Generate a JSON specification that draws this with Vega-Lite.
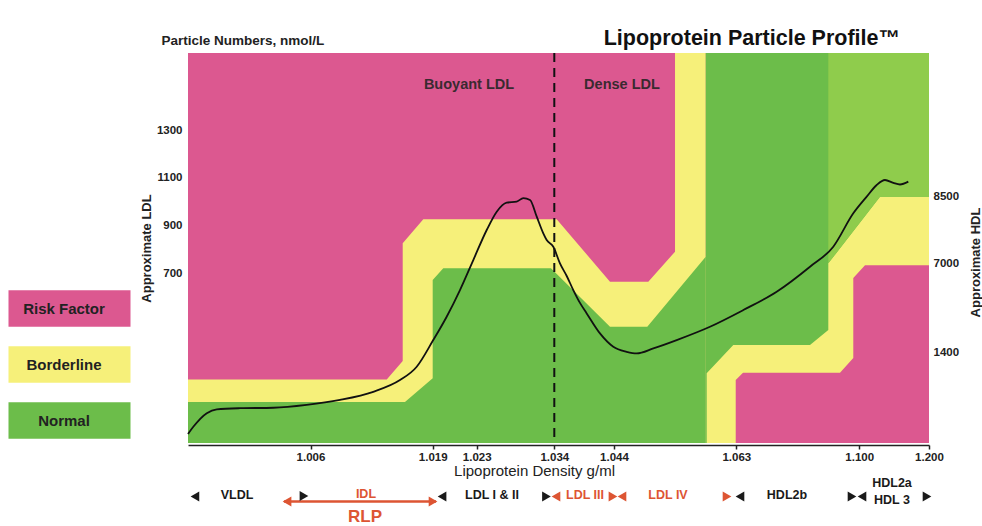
{
  "$schema": "https://vega.github.io/schema/vega-lite/v6.json",
  "width": 741,
  "height": 390,
  "autosize": {"type": "none"},
  "padding": {"left": 188, "top": 53, "right": 53, "bottom": 83},
  "background": "white",
  "config": {"view": {"stroke": null}, "font": "Liberation Sans"},
  "title": {"text": "Lipoprotein Particle Profile™", "anchor": "end", "frame": "group", "dx": -29, "offset": -33, "baseline": "alphabetic", "fontSize": 21.5, "fontWeight": "bold", "font": "Liberation Sans", "color": "#111111"},
  "datasets": {
    "zones": [
      {"part": "bg", "zone": "Risk Factor", "d": 1.0, "top": 1624, "bottom": -13},
      {"part": "bg", "zone": "Risk Factor", "d": 1.2, "top": 1624, "bottom": -13},
      {"part": "ldlBorder", "zone": "Borderline", "d": 1.0, "top": 254, "bottom": -13},
      {"part": "ldlBorder", "zone": "Borderline", "d": 1.01411, "top": 254, "bottom": -13},
      {"part": "ldlBorder", "zone": "Borderline", "d": 1.01581, "top": 331, "bottom": -13},
      {"part": "ldlBorder", "zone": "Borderline", "d": 1.01581, "top": 825, "bottom": -13},
      {"part": "ldlBorder", "zone": "Borderline", "d": 1.018, "top": 926, "bottom": -13},
      {"part": "ldlBorder", "zone": "Borderline", "d": 1.0344, "top": 926, "bottom": -13},
      {"part": "ldlBorder", "zone": "Borderline", "d": 1.04333, "top": 664, "bottom": -13},
      {"part": "ldlBorder", "zone": "Borderline", "d": 1.04933, "top": 664, "bottom": -13},
      {"part": "ldlBorder", "zone": "Borderline", "d": 1.05348, "top": 790, "bottom": -13},
      {"part": "ldlBorder", "zone": "Borderline", "d": 1.05348, "top": 1624, "bottom": -13},
      {"part": "ldlBorder", "zone": "Borderline", "d": 1.05825, "top": 1624, "bottom": -13},
      {"part": "hdlBorder", "zone": "Borderline", "d": 1.05825, "top": 1624, "bottom": -13},
      {"part": "hdlBorder", "zone": "Borderline", "d": 1.06291, "top": 1624, "bottom": -13},
      {"part": "hdlBorder", "zone": "Borderline", "d": 1.06291, "top": 1624, "bottom": 251},
      {"part": "hdlBorder", "zone": "Borderline", "d": 1.06502, "top": 1624, "bottom": 282},
      {"part": "hdlBorder", "zone": "Borderline", "d": 1.09422, "top": 1624, "bottom": 282},
      {"part": "hdlBorder", "zone": "Borderline", "d": 1.09822, "top": 1624, "bottom": 344},
      {"part": "hdlBorder", "zone": "Borderline", "d": 1.09822, "top": 1624, "bottom": 680},
      {"part": "hdlBorder", "zone": "Borderline", "d": 1.10831, "top": 1624, "bottom": 733},
      {"part": "hdlBorder", "zone": "Borderline", "d": 1.2, "top": 1624, "bottom": 733},
      {"part": "ldlNormal", "zone": "Normal", "d": 1.0, "top": 159, "bottom": -13},
      {"part": "ldlNormal", "zone": "Normal", "d": 1.01605, "top": 159, "bottom": -13},
      {"part": "ldlNormal", "zone": "Normal", "d": 1.019, "top": 259, "bottom": -13},
      {"part": "ldlNormal", "zone": "Normal", "d": 1.019, "top": 671, "bottom": -13},
      {"part": "ldlNormal", "zone": "Normal", "d": 1.01996, "top": 720, "bottom": -13},
      {"part": "ldlNormal", "zone": "Normal", "d": 1.03353, "top": 720, "bottom": -13},
      {"part": "ldlNormal", "zone": "Normal", "d": 1.04333, "top": 475, "bottom": -13},
      {"part": "ldlNormal", "zone": "Normal", "d": 1.04917, "top": 475, "bottom": -13},
      {"part": "ldlNormal", "zone": "Normal", "d": 1.05825, "top": 769, "bottom": -13},
      {"part": "hdlNormal", "zone": "Normal", "d": 1.05825, "top": 1624, "bottom": -13},
      {"part": "hdlNormal", "zone": "Normal", "d": 1.0584, "top": 1624, "bottom": -13},
      {"part": "hdlNormal", "zone": "Normal", "d": 1.0584, "top": 1624, "bottom": 280},
      {"part": "hdlNormal", "zone": "Normal", "d": 1.06253, "top": 1624, "bottom": 398},
      {"part": "hdlNormal", "zone": "Normal", "d": 1.08519, "top": 1624, "bottom": 398},
      {"part": "hdlNormal", "zone": "Normal", "d": 1.0907, "top": 1624, "bottom": 461},
      {"part": "hdlNormal", "zone": "Normal", "d": 1.0907, "top": 1624, "bottom": 741},
      {"part": "hdlNormal", "zone": "Normal", "d": 1.1298, "top": 1624, "bottom": 1021},
      {"part": "hdlNormal", "zone": "Normal", "d": 1.2, "top": 1624, "bottom": 1021},
      {"part": "hdlNormalUpper", "zone": "Normal", "d": 1.0907, "top": 1624, "bottom": 741},
      {"part": "hdlNormalUpper", "zone": "Normal", "d": 1.1298, "top": 1624, "bottom": 1021},
      {"part": "hdlNormalUpper", "zone": "Normal", "d": 1.2, "top": 1624, "bottom": 1021}
    ],
    "curve": [
      {"d": 1.0, "ldl": 25}, {"d": 1.00026, "ldl": 55}, {"d": 1.00092, "ldl": 112}, {"d": 1.00141, "ldl": 128},
      {"d": 1.00255, "ldl": 133}, {"d": 1.00418, "ldl": 135}, {"d": 1.00581, "ldl": 147}, {"d": 1.00914, "ldl": 168},
      {"d": 1.01268, "ldl": 202}, {"d": 1.01552, "ldl": 251}, {"d": 1.0173, "ldl": 307}, {"d": 1.01905, "ldl": 419},
      {"d": 1.02027, "ldl": 517}, {"d": 1.02148, "ldl": 629}, {"d": 1.02269, "ldl": 755}, {"d": 1.02442, "ldl": 881},
      {"d": 1.02584, "ldl": 958}, {"d": 1.02725, "ldl": 996}, {"d": 1.02867, "ldl": 1000}, {"d": 1.02961, "ldl": 1015},
      {"d": 1.03056, "ldl": 1007}, {"d": 1.03151, "ldl": 937}, {"d": 1.03244, "ldl": 867}, {"d": 1.03292, "ldl": 839},
      {"d": 1.03386, "ldl": 811}, {"d": 1.03495, "ldl": 741}, {"d": 1.03608, "ldl": 688}, {"d": 1.03718, "ldl": 629},
      {"d": 1.0383, "ldl": 575}, {"d": 1.03943, "ldl": 531}, {"d": 1.04165, "ldl": 447}, {"d": 1.04388, "ldl": 391},
      {"d": 1.04597, "ldl": 370}, {"d": 1.04753, "ldl": 363}, {"d": 1.05011, "ldl": 384}, {"d": 1.05374, "ldl": 419},
      {"d": 1.05891, "ldl": 475}, {"d": 1.06511, "ldl": 545}, {"d": 1.07516, "ldl": 622}, {"d": 1.08519, "ldl": 727},
      {"d": 1.0922, "ldl": 811}, {"d": 1.09822, "ldl": 951}, {"d": 1.11075, "ldl": 1021}, {"d": 1.12507, "ldl": 1070},
      {"d": 1.13696, "ldl": 1091}, {"d": 1.14886, "ldl": 1079}, {"d": 1.15845, "ldl": 1072}, {"d": 1.17035, "ldl": 1084}
    ],
    "labels": [
      {"text": "Buoyant LDL", "d": 1.0223, "level": 1490, "role": "region", "atherogenic": false},
      {"text": "Dense LDL", "d": 1.04524, "level": 1490, "role": "region", "atherogenic": false},
      {"text": "VLDL", "d": 1.0024, "level": -231, "role": "fraction", "atherogenic": false},
      {"text": "IDL", "d": 1.0119, "level": -227, "role": "fraction", "atherogenic": true},
      {"text": "LDL  I & II", "d": 1.02517, "level": -231, "role": "fraction", "atherogenic": false},
      {"text": "LDL III", "d": 1.03914, "level": -231, "role": "fraction", "atherogenic": true},
      {"text": "LDL IV", "d": 1.05239, "level": -231, "role": "fraction", "atherogenic": true},
      {"text": "HDL2b", "d": 1.07826, "level": -231, "role": "fraction", "atherogenic": false},
      {"text": "HDL2a", "d": 1.14699, "level": -181, "role": "fraction", "atherogenic": false},
      {"text": "HDL 3", "d": 1.14699, "level": -252, "role": "fraction", "atherogenic": false},
      {"text": "RLP", "d": 1.0118, "level": -322, "role": "remnant", "atherogenic": true}
    ],
    "markers": [
      {"d": 1.00034, "level": -238, "dir": "left", "atherogenic": false},
      {"d": 1.00568, "level": -235, "dir": "right", "atherogenic": false},
      {"d": 1.01985, "level": -238, "dir": "left", "atherogenic": false},
      {"d": 1.03289, "level": -238, "dir": "right", "atherogenic": false},
      {"d": 1.03428, "level": -238, "dir": "left", "atherogenic": true},
      {"d": 1.04383, "level": -238, "dir": "right", "atherogenic": true},
      {"d": 1.04524, "level": -238, "dir": "left", "atherogenic": true},
      {"d": 1.06156, "level": -238, "dir": "right", "atherogenic": true},
      {"d": 1.06411, "level": -238, "dir": "left", "atherogenic": false},
      {"d": 1.09783, "level": -238, "dir": "right", "atherogenic": false},
      {"d": 1.10401, "level": -238, "dir": "left", "atherogenic": false},
      {"d": 1.19714, "level": -238, "dir": "right", "atherogenic": false},
      {"d": 1.00485, "level": -259, "dir": "left", "atherogenic": true},
      {"d": 1.01903, "level": -259, "dir": "right", "atherogenic": true}
    ],
    "spans": [
      {"name": "RLP", "d": 1.0047, "d2": 1.0193, "level": -259}
    ],
    "hdl": [{"hdl": 1400}, {"hdl": 7000}, {"hdl": 8500}]
  },
  "layer": [
    {
      "layer": [
        {
          "data": {"name": "zones"},
          "transform": [{"filter": "datum.part == 'bg'"}],
          "mark": {"type": "area", "opacity": 1, "interpolate": "linear"},
          "encoding": {
            "x": {
              "field": "d", "type": "quantitative",
              "scale": {"domain": [1.0, 1.006, 1.019, 1.023, 1.034, 1.044, 1.063, 1.1, 1.2], "range": [0, 122.5, 244.7, 288.7, 366.3, 426, 548.3, 671.2, 741], "nice": false, "zero": false},
              "axis": {
                "orient": "bottom", "title": "Lipoprotein Density g/ml",
                "values": [1.006, 1.019, 1.023, 1.034, 1.044, 1.063, 1.1, 1.2], "format": ".3f",
                "grid": false, "labelFlush": false, "labelOverlap": false,
                "labelFont": "Liberation Sans", "labelFontSize": 11.5, "labelFontWeight": "bold", "labelColor": "#222222", "labelPadding": 2,
                "tickColor": "#222222", "tickSize": 4, "tickWidth": 1.5,
                "domainColor": "#222222", "domainWidth": 1.5, "offset": 2,
                "titleFont": "Liberation Sans", "titleFontSize": 15, "titleFontWeight": "normal", "titleColor": "#222222", "titleX": 346, "titlePadding": 1
              }
            },
            "y": {
              "field": "top", "type": "quantitative",
              "scale": {"domain": [-13, 1624], "nice": false, "zero": false},
              "axis": {
                "orient": "left", "title": "Approximate LDL", "values": [700, 900, 1100, 1300], "format": "d",
                "grid": false, "domain": false, "ticks": false,
                "labelFont": "Liberation Sans", "labelFontSize": 11.5, "labelFontWeight": "bold", "labelColor": "#222222", "labelPadding": 6,
                "titleFont": "Liberation Sans", "titleFontSize": 13, "titleFontWeight": "bold", "titleColor": "#222222", "titlePadding": 3
              }
            },
            "y2": {"field": "bottom"},
            "color": {
              "field": "zone", "type": "nominal",
              "scale": {"domain": ["Risk Factor", "Borderline", "Normal"], "range": ["#dc5890", "#f6f07a", "#6cbd4a"]},
              "legend": {
                "orient": "none", "legendX": -139, "legendY": 235, "title": null,
                "symbolType": "M-3,-0.9H3V0.9H-3Z", "symbolSize": 1654, "symbolStrokeWidth": 0, "symbolOpacity": 1,
                "labelAlign": "center", "labelOffset": -26,
                "labelFont": "Liberation Sans", "labelFontSize": 15, "labelFontWeight": "bold", "labelColor": "#222222",
                "rowPadding": 17
              }
            }
          }
        },
        {
          "data": {"name": "zones"},
          "transform": [{"filter": "datum.part == 'ldlBorder'"}],
          "mark": {"type": "area", "opacity": 1},
          "encoding": {"x": {"field": "d", "type": "quantitative"}, "y": {"field": "top", "type": "quantitative"}, "y2": {"field": "bottom"}, "color": {"field": "zone", "type": "nominal"}}
        },
        {
          "data": {"name": "zones"},
          "transform": [{"filter": "datum.part == 'hdlBorder'"}],
          "mark": {"type": "area", "opacity": 1},
          "encoding": {"x": {"field": "d", "type": "quantitative"}, "y": {"field": "top", "type": "quantitative"}, "y2": {"field": "bottom"}, "color": {"field": "zone", "type": "nominal"}}
        },
        {
          "data": {"name": "zones"},
          "transform": [{"filter": "datum.part == 'ldlNormal'"}],
          "mark": {"type": "area", "opacity": 1},
          "encoding": {"x": {"field": "d", "type": "quantitative"}, "y": {"field": "top", "type": "quantitative"}, "y2": {"field": "bottom"}, "color": {"field": "zone", "type": "nominal"}}
        },
        {
          "data": {"name": "zones"},
          "transform": [{"filter": "datum.part == 'hdlNormal'"}],
          "mark": {"type": "area", "opacity": 1},
          "encoding": {"x": {"field": "d", "type": "quantitative"}, "y": {"field": "top", "type": "quantitative"}, "y2": {"field": "bottom"}, "color": {"field": "zone", "type": "nominal"}}
        },
        {
          "data": {"name": "zones"},
          "transform": [{"filter": "datum.part == 'hdlNormalUpper'"}],
          "mark": {"type": "area", "opacity": 1, "color": "#8fcc4c"},
          "encoding": {"x": {"field": "d", "type": "quantitative"}, "y": {"field": "top", "type": "quantitative"}, "y2": {"field": "bottom"}}
        },
        {
          "data": {"name": "curve"},
          "mark": {"type": "line", "color": "#111111", "strokeWidth": 1.8, "interpolate": "monotone"},
          "encoding": {"x": {"field": "d", "type": "quantitative"}, "y": {"field": "ldl", "type": "quantitative"}}
        },
        {
          "data": {"values": [{}]},
          "mark": {"type": "rule", "color": "#111111", "strokeWidth": 2, "strokeDash": [9, 6]},
          "encoding": {"x": {"datum": 1.034, "type": "quantitative"}}
        },
        {
          "data": {"name": "labels"},
          "transform": [{"filter": "datum.role == 'region'"}],
          "mark": {"type": "text", "font": "Liberation Sans", "fontSize": 14.5, "fontWeight": "bold", "color": "#3a2a30", "baseline": "middle", "align": "center"},
          "encoding": {"x": {"field": "d", "type": "quantitative"}, "y": {"field": "level", "type": "quantitative"}, "text": {"field": "text"}}
        },
        {
          "data": {"name": "labels"},
          "transform": [{"filter": "datum.role == 'fraction' && !datum.atherogenic"}],
          "mark": {"type": "text", "font": "Liberation Sans", "fontSize": 12.5, "fontWeight": "bold", "color": "#1a1a1a", "baseline": "middle", "align": "center"},
          "encoding": {"x": {"field": "d", "type": "quantitative"}, "y": {"field": "level", "type": "quantitative"}, "text": {"field": "text"}}
        },
        {
          "data": {"name": "labels"},
          "transform": [{"filter": "datum.role == 'fraction' && datum.atherogenic"}],
          "mark": {"type": "text", "font": "Liberation Sans", "fontSize": 12.5, "fontWeight": "bold", "color": "#dd5533", "baseline": "middle", "align": "center"},
          "encoding": {"x": {"field": "d", "type": "quantitative"}, "y": {"field": "level", "type": "quantitative"}, "text": {"field": "text"}}
        },
        {
          "data": {"name": "labels"},
          "transform": [{"filter": "datum.role == 'remnant'"}],
          "mark": {"type": "text", "font": "Liberation Sans", "fontSize": 17, "fontWeight": "bold", "color": "#dd5533", "baseline": "middle", "align": "center"},
          "encoding": {"x": {"field": "d", "type": "quantitative"}, "y": {"field": "level", "type": "quantitative"}, "text": {"field": "text"}}
        },
        {
          "data": {"name": "spans"},
          "mark": {"type": "rule", "color": "#dd5533", "strokeWidth": 2.5},
          "encoding": {"x": {"field": "d", "type": "quantitative"}, "x2": {"field": "d2"}, "y": {"field": "level", "type": "quantitative"}}
        },
        {
          "data": {"name": "markers"},
          "transform": [{"filter": "!datum.atherogenic"}],
          "mark": {"type": "point", "filled": true, "opacity": 1, "size": 100, "color": "#1a1a1a"},
          "encoding": {
            "x": {"field": "d", "type": "quantitative"}, "y": {"field": "level", "type": "quantitative"},
            "shape": {"field": "dir", "type": "nominal", "scale": {"domain": ["left", "right"], "range": ["triangle-left", "triangle-right"]}, "legend": null}
          }
        },
        {
          "data": {"name": "markers"},
          "transform": [{"filter": "datum.atherogenic"}],
          "mark": {"type": "point", "filled": true, "opacity": 1, "size": 100, "color": "#dd5533"},
          "encoding": {
            "x": {"field": "d", "type": "quantitative"}, "y": {"field": "level", "type": "quantitative"},
            "shape": {"field": "dir", "type": "nominal"}
          }
        }
      ]
    },
    {
      "data": {"name": "hdl"},
      "mark": {"type": "point", "opacity": 0},
      "encoding": {
        "x": {
          "datum": 1.1, "type": "quantitative",
          "axis": {
            "orient": "top", "title": "Particle Numbers, nmol/L", "labels": false, "ticks": false, "domain": false, "grid": false,
            "titleX": -27, "titleY": -9, "titleAlign": "left", "titleBaseline": "alphabetic", "titleAngle": 0,
            "titleFont": "Liberation Sans", "titleFontSize": 13.5, "titleFontWeight": "bold", "titleColor": "#222222"
          }
        },
        "y": {
          "field": "hdl", "type": "quantitative",
          "scale": {"domain": [0, 1400, 7000, 8500, 10000], "range": [390, 299, 210, 143, 0], "nice": false, "zero": false},
          "axis": {
            "orient": "right", "title": "Approximate HDL", "values": [1400, 7000, 8500], "format": "d",
            "grid": false, "domain": false, "ticks": false,
            "labelFont": "Liberation Sans", "labelFontSize": 11.5, "labelFontWeight": "bold", "labelColor": "#222222", "labelPadding": 4,
            "titleFont": "Liberation Sans", "titleFontSize": 13, "titleFontWeight": "bold", "titleColor": "#222222",
            "titleAngle": 270, "titleX": 40, "titleY": 209, "titleBaseline": "top", "titleAlign": "center"
          }
        }
      }
    }
  ],
  "resolve": {"scale": {"y": "independent"}, "axis": {"x": "independent", "y": "independent"}}
}
